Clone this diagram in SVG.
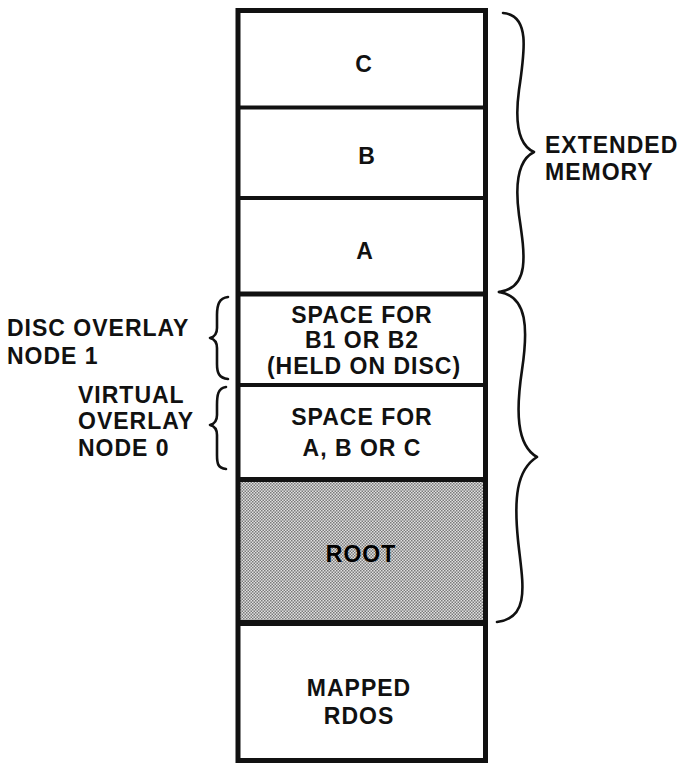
<svg xmlns="http://www.w3.org/2000/svg" width="684" height="771" viewBox="0 0 684 771">
<style>
  text { font-family: "Liberation Sans", Arial, sans-serif; font-weight: bold; font-size: 23px; fill: #111; letter-spacing: 1px; }
  .c { text-anchor: middle; }
  .div { stroke: #111; stroke-width: 4; fill: none; }
  .brace { stroke: #111; stroke-width: 2.6; fill: none; stroke-linecap: round; stroke-linejoin: round; }
</style>
<defs>
  <pattern id="half" width="3" height="3" patternUnits="userSpaceOnUse">
    <rect width="3" height="3" fill="#e0e0e0"/>
    <rect x="0" y="0" width="1.5" height="1.5" fill="#7a7a7a"/>
    <rect x="1.5" y="1.5" width="1.5" height="1.5" fill="#7a7a7a"/>
  </pattern>
</defs>
<rect width="684" height="771" fill="#fff"/>

<g id="root">
  <rect x="238" y="479" width="247" height="144" fill="url(#half)"/>
  <text class="c" x="361" y="562" style="fill:#000">ROOT</text>
</g>

<g id="column">
  <rect x="238" y="10.5" width="247.5" height="750" fill="none" stroke="#111" stroke-width="5"/>
  <line class="div" x1="238" y1="107.5" x2="485.5" y2="107.5"/>
  <line class="div" x1="238" y1="198" x2="485.5" y2="198"/>
  <line class="div" x1="238" y1="294" x2="485.5" y2="294" style="stroke-width:5"/>
  <line class="div" x1="238" y1="385" x2="485.5" y2="385"/>
  <line class="div" x1="238" y1="479.5" x2="485.5" y2="479.5" style="stroke-width:5"/>
  <line class="div" x1="238" y1="623" x2="485.5" y2="623" style="stroke-width:6"/>
</g>

<g id="node-c"><text class="c" x="364" y="72">C</text></g>
<g id="node-b"><text class="c" x="367" y="164">B</text></g>
<g id="node-a"><text class="c" x="365" y="259">A</text></g>
<g id="node-space-b">
  <text class="c" x="362" y="323">SPACE FOR</text>
  <text class="c" x="362" y="348">B1 OR B2</text>
  <text class="c" x="364" y="374">(HELD ON DISC)</text>
</g>
<g id="node-space-abc">
  <text class="c" x="362" y="425">SPACE FOR</text>
  <text class="c" x="362" y="456">A, B OR C</text>
</g>
<g id="node-mapped">
  <text class="c" x="359" y="696">MAPPED</text>
  <text class="c" x="359" y="724">RDOS</text>
</g>

<g id="connectors">
  <path class="brace" d="M 503 13 C 530 15, 525 50, 519 90 C 515 120, 518 145, 534 152 C 518 160, 515 185, 519 215 C 525 255, 530 288, 499 292"/>
  <path class="brace" d="M 499 292 C 528 296, 528 330, 522 370 C 516 410, 516 445, 537 457 C 516 470, 514 500, 518 540 C 522 580, 532 618, 497 622"/>
  <path class="brace" d="M 228 297 C 219 298, 217 305, 217 315 L 217 328 C 217 334, 214 337, 210 338 C 214 339, 217 342, 217 348 L 217 364 C 217 373, 219 378, 228 379"/>
  <path class="brace" d="M 226 387 C 218 388, 217 395, 217 405 L 217 415 C 217 421, 214 424, 210 425 C 214 426, 217 429, 217 435 L 217 455 C 217 464, 218 468, 226 469"/>
</g>

<g id="label-extended">
  <text x="545" y="153">EXTENDED</text>
  <text x="545" y="180">MEMORY</text>
</g>
<g id="label-disc">
  <text x="7" y="336">DISC OVERLAY</text>
  <text x="7" y="364">NODE 1</text>
</g>
<g id="label-virtual">
  <text x="78" y="403">VIRTUAL</text>
  <text x="78" y="429">OVERLAY</text>
  <text x="78" y="456">NODE 0</text>
</g>
</svg>
